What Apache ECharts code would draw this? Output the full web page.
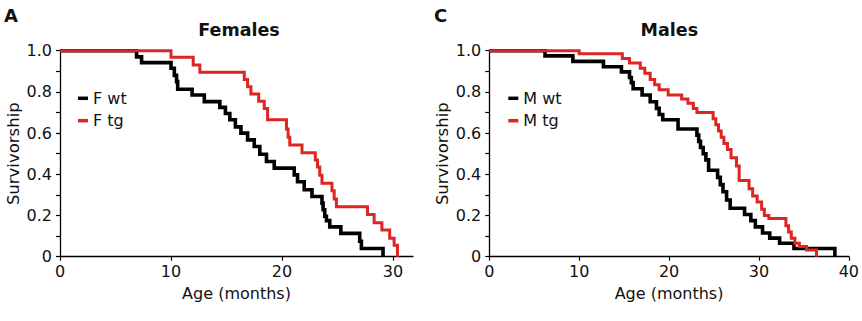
<!DOCTYPE html>
<html>
<head>
<meta charset="utf-8">
<script src="https://cdn.jsdelivr.net/npm/echarts@6/dist/echarts.min.js"></script>
<style>
html,body{margin:0;padding:0;background:#fff;}
#chart{width:862px;height:321px;}
</style>
</head>
<body>
<div id="chart"></div>
<script>
// ---- Data ----
const panelLetters = ['A', 'C'];
const panelTitles = ['Females', 'Males'];
const seriesNames = ['F wt', 'F tg', 'M wt', 'M tg'];
const yTickValues = [0, 0.2, 0.4, 0.6, 0.8, 1.0];
const xTicksFemales = [0, 10, 20, 30];
const xTicksMales = [0, 10, 20, 30, 40];

const fWtMonths = [0, 6.9, 7.35, 10.0, 10.3, 10.5, 10.6, 11.9, 13.0, 14.4, 14.9, 15.3, 15.8, 16.3, 16.9, 17.5, 18.0, 18.6, 19.3, 21.1, 21.4, 22.0, 22.7, 23.6, 23.7, 23.85, 24.0, 24.3, 25.3, 27.0, 27.15, 29.1];
const fWtSurv   = [1, 0.97, 0.942, 0.915, 0.88, 0.85, 0.813, 0.785, 0.753, 0.725, 0.695, 0.665, 0.63, 0.6, 0.567, 0.535, 0.497, 0.462, 0.43, 0.397, 0.364, 0.325, 0.292, 0.26, 0.228, 0.196, 0.175, 0.145, 0.113, 0.075, 0.04, 0];

const fTgMonths = [0, 10.0, 12.0, 12.6, 16.6, 16.9, 17.2, 17.9, 18.4, 18.7, 20.4, 20.55, 20.7, 21.8, 23.0, 23.2, 23.4, 23.6, 24.5, 24.7, 24.9, 27.7, 28.3, 29.0, 29.7, 30.1, 30.4];
const fTgSurv   = [1, 0.968, 0.93, 0.895, 0.86, 0.825, 0.79, 0.755, 0.72, 0.665, 0.62, 0.58, 0.542, 0.505, 0.47, 0.435, 0.395, 0.357, 0.32, 0.28, 0.243, 0.205, 0.165, 0.13, 0.09, 0.055, 0];

const mWtMonths = [0, 6.2, 9.3, 12.7, 14.7, 15.6, 15.8, 16.0, 17.0, 17.9, 18.6, 18.9, 19.3, 21.0, 23.1, 23.3, 23.5, 23.8, 24.1, 24.4, 25.4, 25.7, 26.0, 26.4, 26.8, 28.4, 29.1, 29.6, 30.4, 31.2, 32.3, 33.9, 38.45];
const mWtSurv   = [1, 0.975, 0.948, 0.922, 0.897, 0.87, 0.845, 0.815, 0.785, 0.752, 0.72, 0.69, 0.665, 0.62, 0.59, 0.56, 0.53, 0.5, 0.47, 0.42, 0.385, 0.35, 0.315, 0.275, 0.235, 0.205, 0.175, 0.145, 0.115, 0.09, 0.065, 0.04, 0];

const mTgMonths = [0, 10.0, 14.8, 15.6, 16.8, 17.3, 17.9, 18.4, 18.9, 19.9, 21.4, 22.1, 22.7, 23.1, 24.9, 25.2, 25.5, 25.8, 26.1, 26.5, 26.9, 27.5, 27.8, 28.9, 29.3, 29.8, 30.3, 30.6, 31.1, 33.0, 33.3, 33.6, 34.0, 34.5, 35.3, 36.4];
const mTgSurv   = [1, 0.985, 0.962, 0.94, 0.915, 0.89, 0.86, 0.835, 0.81, 0.785, 0.765, 0.745, 0.72, 0.70, 0.67, 0.64, 0.61, 0.58, 0.55, 0.52, 0.48, 0.44, 0.37, 0.33, 0.295, 0.265, 0.23, 0.2, 0.185, 0.15, 0.12, 0.09, 0.065, 0.05, 0.032, 0];

// ---- Styling ----
const FONT = 'DejaVu Sans';
const TXT = '#111111';
const RED = '#dd2522';
const BLACK = '#000000';

function pairs(xs, ys) { return xs.map((x, i) => [x, ys[i]]); }

function yAxisFor(gridIndex) {
  return {
    gridIndex: gridIndex, type: 'value', min: 0, max: 1, interval: 0.2,
    name: 'Survivorship', nameLocation: 'middle', nameGap: 38,
    nameTextStyle: { fontFamily: FONT, fontSize: 16.5, color: TXT },
    axisLine: { show: true, lineStyle: { color: BLACK, width: 1.3 } },
    axisTick: { show: true, inside: false, length: 4, lineStyle: { color: BLACK, width: 1.2 } },
    minorTick: { show: true, splitNumber: 2, length: 4, lineStyle: { color: BLACK, width: 1.2 } },
    splitLine: { show: false },
    axisLabel: {
      margin: 8, fontFamily: FONT, fontSize: 16, color: TXT,
      formatter: v => (v === 0 ? '0' : v.toFixed(1))
    }
  };
}

function xAxisFor(gridIndex, max, ticks) {
  return {
    gridIndex: gridIndex, type: 'value', min: 0, max: max, interval: 10,
    name: 'Age (months)', nameLocation: 'middle', nameGap: 29,
    nameTextStyle: { fontFamily: FONT, fontSize: 16, color: TXT },
    axisLine: { show: true, onZero: false, lineStyle: { color: BLACK, width: 1.3 } },
    axisTick: { show: true, inside: false, length: 4, customValues: ticks, lineStyle: { color: BLACK, width: 1.2 } },
    splitLine: { show: false },
    axisLabel: { margin: 7, fontFamily: FONT, fontSize: 16, color: TXT, customValues: ticks, showMaxLabel: true }
  };
}

function lineSeries(name, data, color, width, axisIdx) {
  return {
    name: name, type: 'line', step: 'end', data: data,
    xAxisIndex: axisIdx, yAxisIndex: axisIdx,
    showSymbol: false, symbol: 'none', clip: false,
    color: color,
    lineStyle: { color: color, width: width, join: 'miter', cap: 'butt' },
    emphasis: { disabled: true }, animation: false
  };
}

function legendFor(left, names) {
  return {
    left: left, top: 90.3, orient: 'vertical', icon: 'rect', padding: 0,
    itemWidth: 10, itemHeight: 3.5, itemGap: 6.4,
    data: names, selectedMode: false,
    textStyle: { fontFamily: FONT, fontSize: 16, lineHeight: 16, color: TXT }
  };
}

const chart = echarts.init(document.getElementById('chart'), null, { renderer: 'svg' });
chart.setOption({
  animation: false,
  backgroundColor: '#ffffff',
  grid: [
    { left: 60, top: 50.7, width: 353, height: 206, containLabel: false },
    { left: 489.3, top: 50.7, width: 359.7, height: 206, containLabel: false }
  ],
  xAxis: [xAxisFor(0, 31.8, xTicksFemales), xAxisFor(1, 40, xTicksMales)],
  yAxis: [yAxisFor(0), yAxisFor(1)],
  legend: [legendFor(78, [seriesNames[0], seriesNames[1]]), legendFor(508.3, [seriesNames[2], seriesNames[3]])],
  series: [
    lineSeries(seriesNames[0], pairs(fWtMonths, fWtSurv), BLACK, 3.6, 0),
    lineSeries(seriesNames[1], pairs(fTgMonths, fTgSurv), RED, 3, 0),
    lineSeries(seriesNames[2], pairs(mWtMonths, mWtSurv), BLACK, 3.6, 1),
    lineSeries(seriesNames[3], pairs(mTgMonths, mTgSurv), RED, 3, 1)
  ],
  graphic: [
    { type: 'text', x: 4, y: 15, style: { text: panelLetters[0], font: 'bold 18px "DejaVu Sans"', fill: TXT, verticalAlign: 'middle', align: 'left' } },
    { type: 'text', x: 434, y: 15, style: { text: panelLetters[1], font: 'bold 18px "DejaVu Sans"', fill: TXT, verticalAlign: 'middle', align: 'left' } },
    { type: 'text', x: 239, y: 30, style: { text: panelTitles[0], font: 'bold 17.5px "DejaVu Sans"', fill: TXT, verticalAlign: 'middle', align: 'center' } },
    { type: 'text', x: 669.3, y: 30, style: { text: panelTitles[1], font: 'bold 17.5px "DejaVu Sans"', fill: TXT, verticalAlign: 'middle', align: 'center' } }
  ]
});
</script>
</body>
</html>
